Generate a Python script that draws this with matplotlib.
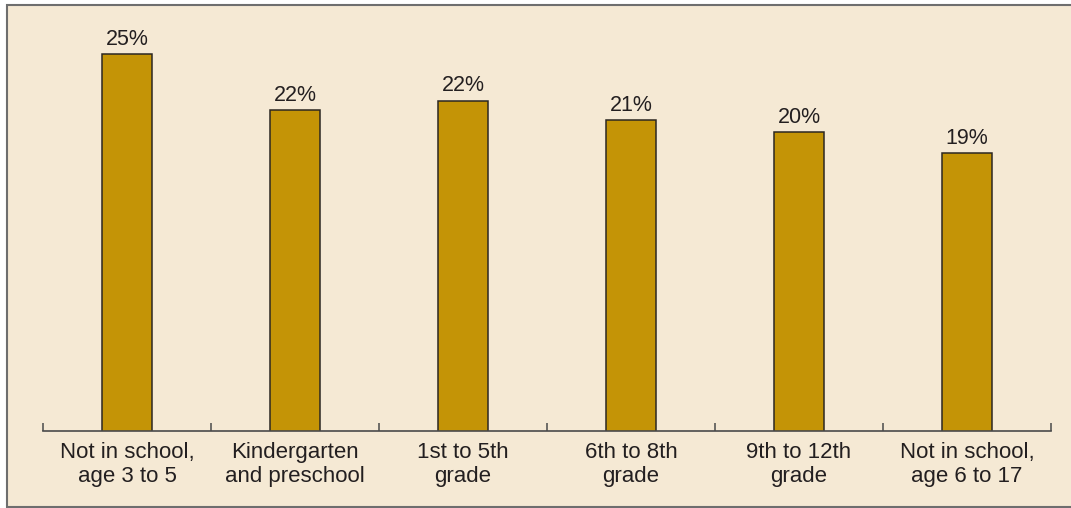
import matplotlib.pyplot as plt
from matplotlib.patches import Rectangle

categories = ["Not in school,\nage 3 to 5", "Kindergarten\nand preschool", "1st to 5th\ngrade",
              "6th to 8th\ngrade", "9th to 12th\ngrade", "Not in school,\nage 6 to 17"]
values = [25.0, 21.6, 22.2, 21.0, 20.3, 19.0]
value_labels = ["25%", "22%", "22%", "21%", "20%", "19%"]

BG = "#F5E9D4"
BAR = "#C49406"
TEXT = "#231F20"

plt.rcParams['font.family'] = ['Liberation Sans', 'DejaVu Sans']

fig = plt.figure(figsize=(10.71, 5.08), dpi=100, facecolor="white")

# beige panel with grey frame (right side runs off the page)
panel = Rectangle((7 / 1071, 1 - 507 / 508), 1.2, (507 - 5) / 508,
                  transform=fig.transFigure, facecolor=BG, edgecolor="#6E6E6E",
                  linewidth=1.5, zorder=-10)
fig.add_artist(panel)

ax = fig.add_axes([43 / 1071, 1 - 431 / 508, (1051 - 43) / 1071, (431 - 20) / 508])
ax.set_facecolor("none")
ax.set_zorder(5)

x = list(range(len(categories)))
ax.bar(x, values, width=0.3, color=BAR, edgecolor="#2B2722", linewidth=1.1, zorder=2)

for xi, v, lab in zip(x, values, value_labels):
    ax.annotate(lab, (xi, v), xytext=(0, 3), textcoords="offset points",
                ha="center", va="bottom", fontsize=15.5, color=TEXT)

ax.set_xlim(-0.5, len(categories) - 0.5)
ax.set_ylim(2.17, 27.08)

for s in ["top", "right", "left"]:
    ax.spines[s].set_visible(False)
ax.spines["bottom"].set_color("#4A4A4A")
ax.spines["bottom"].set_linewidth(1.2)

ax.set_yticks([])
ax.set_xticks([i - 0.5 for i in range(len(categories) + 1)])
ax.set_xticklabels([])
ax.tick_params(axis="x", direction="in", length=6, width=1.1, color="#4A4A4A")
ax.set_xticks(x, minor=True)
ax.set_xticklabels(categories, minor=True, fontsize=16, color=TEXT, linespacing=1.2)
ax.tick_params(axis="x", which="minor", length=0, pad=8)

fig.savefig("out.png", dpi=100, facecolor="white")
